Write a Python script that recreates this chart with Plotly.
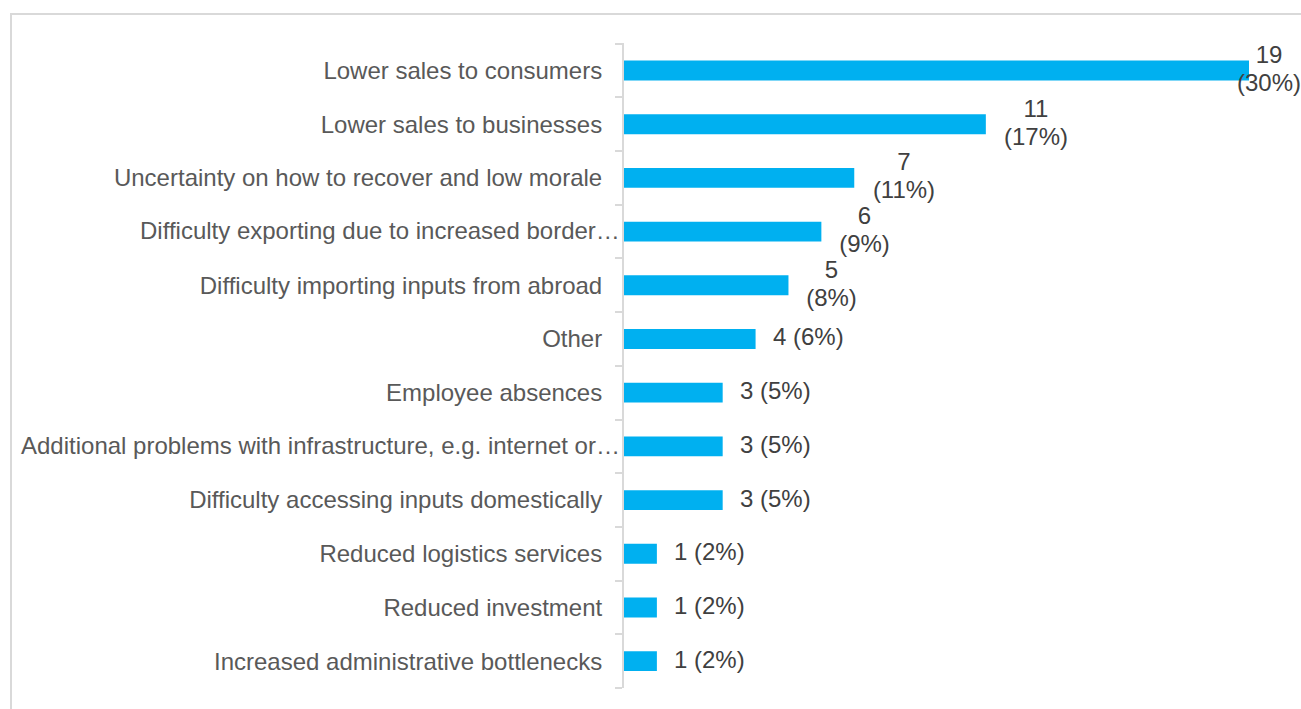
import plotly.graph_objects as go

# Reported impacts, listed from most to least frequent
categories = [
    "Lower sales to consumers",
    "Lower sales to businesses",
    "Uncertainty on how to recover and low morale",
    "Difficulty exporting due to increased border…",
    "Difficulty importing inputs from abroad",
    "Other",
    "Employee absences",
    "Additional problems with infrastructure, e.g. internet or…",
    "Difficulty accessing inputs domestically",
    "Reduced logistics services",
    "Reduced investment",
    "Increased administrative bottlenecks",
]
counts = [19, 11, 7, 6, 5, 4, 3, 3, 3, 1, 1, 1]
shares = [30, 17, 11, 9, 8, 6, 5, 5, 5, 2, 2, 2]

W, H = 1301, 709
ML, MR, MT, MB = 624, 52, 43, 21

BAR = "#00B0F0"
GRID = "#D9D9D9"
FONT = "Liberation Sans, Arial, sans-serif"
LABEL_SIZE = 24

# Arial/Liberation advance widths (em) for the glyphs used in value labels
GLYPH_EM = {**{d: 0.556 for d in "0123456789"}, "(": 0.333, ")": 0.333, "%": 0.889, " ": 0.278}


def text_px(s, size=LABEL_SIZE):
    return sum(GLYPH_EM.get(ch, 0.556) for ch in s) * size


fig = go.Figure(
    go.Bar(
        x=counts,
        y=categories,
        orientation="h",
        width=0.37,
        marker=dict(color=BAR, line=dict(width=0)),
        hoverinfo="skip",
    )
)

annotations = []
value_font = dict(family=FONT, size=LABEL_SIZE, color="#404040")

# Value labels: wide ones wrap onto two tightly spaced lines; the longest
# bar's label is pulled back so it stays inside the frame
top = max(counts)
for cat, n, pct in zip(categories, counts, shares):
    if n == top:
        anchor, shift = "right", 55
    else:
        anchor, shift = "left", 15
    if n >= 5:
        pct_txt = f"({pct}%)"
        box = round(text_px(pct_txt)) + 2
        for txt, dy in ((pct_txt, -12), (str(n), 16)):
            annotations.append(dict(
                x=n, y=cat, xref="x", yref="y", text=txt, showarrow=False,
                xanchor=anchor, yanchor="middle", align="center",
                width=box, xshift=shift, yshift=dy, font=value_font,
            ))
    else:
        annotations.append(dict(
            x=n, y=cat, xref="x", yref="y", text=f"{n} ({pct}%)",
            showarrow=False, xanchor=anchor, yanchor="middle",
            xshift=shift, yshift=2, font=value_font,
        ))

# Truncated category names run right up to the axis line
ticktext = []
for cat in categories:
    if cat.endswith("…"):
        ticktext.append("")
        annotations.append(dict(
            x=0, y=cat, xref="x", yref="y",
            text=cat, showarrow=False,
            xanchor="right", yanchor="middle", xshift=-2, yshift=1,
            font=dict(family=FONT, size=LABEL_SIZE, color="#595959"),
        ))
    else:
        ticktext.append(cat)

# Outer frame of the chart area
pw = W - ML - MR
ph = H - MT - MB
def px_x(p):
    return (p - ML) / pw
def px_y(p):
    return (H - MB - p) / ph

shapes = [dict(
    type="rect", xref="paper", yref="paper",
    x0=px_x(11), x1=px_x(W + 20), y0=px_y(H + 20), y1=px_y(14),
    line=dict(color=GRID, width=2), fillcolor="rgba(0,0,0,0)", layer="below",
)]

fig.update_layout(
    width=W, height=H,
    margin=dict(l=ML, r=MR, t=MT, b=MB, pad=0, autoexpand=False),
    paper_bgcolor="white", plot_bgcolor="white",
    showlegend=False,
    annotations=annotations,
    shapes=shapes,
    xaxis=dict(
        range=[0, top], visible=False, showgrid=False, zeroline=False,
        fixedrange=True, automargin=False,
    ),
    yaxis=dict(
        type="category", autorange="reversed",
        tickmode="array", tickvals=categories, ticktext=ticktext,
        showline=True, linecolor=GRID, linewidth=2,
        ticks="outside", ticklen=7, tickcolor=GRID, tickwidth=2,
        tickson="boundaries",
        showgrid=False, zeroline=False,
        tickfont=dict(family=FONT, size=LABEL_SIZE, color="#595959"),
        ticklabelstandoff=15,
        automargin=False,
        fixedrange=True,
    ),
)

fig.write_html("out.html", config={"displayModeBar": False})
